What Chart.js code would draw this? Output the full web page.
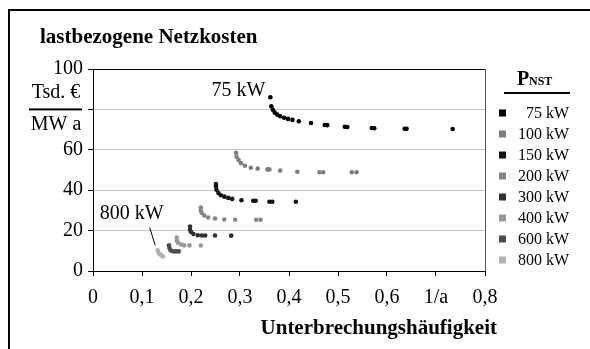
<!DOCTYPE html>
<html>
<head>
<meta charset="utf-8">
<script src="https://cdn.jsdelivr.net/npm/chart.js@4/dist/chart.umd.min.js"></script>
<style>
  html, body { margin: 0; padding: 0; background: #fff; }
  canvas { display: block; }
</style>
</head>
<body>
<canvas id="chart" width="590" height="349"></canvas>
<script>
// Series: Unterbrechungshäufigkeit (1/a) vs. lastbezogene Netzkosten (Tsd. €/MW a)
const x75 = [0.362, 0.364, 0.367, 0.371, 0.376, 0.382, 0.390, 0.398, 0.407, 0.420, 0.445, 0.473, 0.478, 0.514, 0.519, 0.569, 0.574, 0.636, 0.640, 0.734];
const y75 = [86.0, 81.5, 79.8, 78.4, 77.4, 76.6, 75.9, 75.3, 74.8, 74.1, 73.3, 72.3, 72.2, 71.4, 71.3, 70.8, 70.7, 70.4, 70.4, 70.3];

const x100 = [0.292, 0.293, 0.297, 0.302, 0.310, 0.322, 0.336, 0.356, 0.360, 0.382, 0.417, 0.462, 0.470, 0.528, 0.538];
const y100 = [58.5, 56.5, 55.0, 53.4, 52.1, 51.1, 50.7, 50.3, 50.3, 49.7, 49.1, 48.9, 48.9, 48.9, 48.9];

const x150 = [0.251, 0.251, 0.252, 0.256, 0.261, 0.268, 0.276, 0.284, 0.303, 0.327, 0.332, 0.360, 0.366, 0.414];
const y150 = [43.1, 41.8, 40.2, 38.6, 37.5, 36.8, 36.2, 35.7, 35.0, 34.8, 34.8, 34.3, 34.3, 34.3];

const x200 = [0.220, 0.220, 0.222, 0.227, 0.235, 0.249, 0.268, 0.290, 0.333, 0.342];
const y200 = [31.4, 29.8, 28.7, 27.5, 26.5, 26.0, 25.5, 25.4, 25.4, 25.4];

const x300 = [0.198, 0.198, 0.200, 0.205, 0.214, 0.222, 0.229, 0.249, 0.282];
const y300 = [22.0, 20.4, 19.3, 18.3, 17.7, 17.6, 17.6, 17.6, 17.5];

const x400 = [0.171, 0.171, 0.174, 0.180, 0.186, 0.197, 0.220];
const y400 = [16.6, 15.0, 13.9, 13.1, 12.7, 12.7, 12.6];

const x600 = [0.155, 0.156, 0.158, 0.161, 0.165, 0.170, 0.175];
const y600 = [12.7, 11.4, 10.4, 9.9, 9.7, 9.7, 9.7];

const x800 = [0.132, 0.133, 0.135, 0.138, 0.141, 0.143];
const y800 = [10.2, 9.4, 8.6, 8.0, 7.5, 7.2];

const seriesNames = ['75 kW', '100 kW', '150 kW', '200 kW', '300 kW', '400 kW', '600 kW', '800 kW'];
const seriesColors = ['#000000', '#7f7f7f', '#141414', '#868686', '#303030', '#999999', '#4d4d4d', '#b3b3b3'];
const seriesX = [x75, x100, x150, x200, x300, x400, x600, x800];
const seriesY = [y75, y100, y150, y200, y300, y400, y600, y800];

const xTickLabels = ['0', '0,1', '0,2', '0,3', '0,4', '0,5', '0,6', '1/a', '0,8'];
const yTickValues = [0, 20, 40, 60, 80, 100];

const SERIF = '"Liberation Serif", "Times New Roman", serif';
Chart.defaults.font.family = SERIF;
Chart.defaults.color = '#000';

function toPoints(xs, ys) {
    return xs.map((x, i) => ({ x: x, y: ys[i] }));
}

const datasets = seriesNames.map((name, i) => ({
    label: name,
    data: toPoints(seriesX[i], seriesY[i]),
    backgroundColor: seriesColors[i],
    borderColor: seriesColors[i],
    pointStyle: 'circle',
    pointRadius: 2.3,
    pointBorderWidth: 0,
    showLine: false
}));

// Everything that is not a data mark: frame, titles, unit, labels, legend
const decorPlugin = {
    id: 'decor',
    afterDraw(chart) {
        const ctx = chart.ctx;
        const area = chart.chartArea;
        const xs = chart.scales.x;
        const ys = chart.scales.y;
        ctx.save();

        // outer frame (left and top only are visible)
        ctx.strokeStyle = '#000';
        ctx.lineWidth = 2;
        ctx.beginPath();
        ctx.moveTo(9, 349);
        ctx.lineTo(9, 10);
        ctx.lineTo(590, 10);
        ctx.stroke();

        // right border of plot area
        ctx.strokeStyle = '#555';
        ctx.lineWidth = 1;
        ctx.beginPath();
        ctx.moveTo(area.right + 0.5, area.top);
        ctx.lineTo(area.right + 0.5, area.bottom);
        ctx.stroke();

        ctx.fillStyle = '#000';
        ctx.textBaseline = 'alphabetic';

        // chart title
        ctx.font = 'bold 21px ' + SERIF;
        ctx.textAlign = 'left';
        ctx.fillText('lastbezogene Netzkosten', 40, 43);

        // axis title
        ctx.textAlign = 'right';
        ctx.fillText('Unterbrechungshäufigkeit', 497, 334);

        // y unit as a fraction in place of the 80 label
        const y80 = ys.getPixelForValue(80);
        ctx.font = '20px ' + SERIF;
        ctx.textAlign = 'center';
        ctx.fillText('Tsd. €', 56, y80 - 11);
        ctx.fillText('MW a', 56, y80 + 21);
        ctx.fillRect(29, y80 - 1, 53, 2);

        // series labels
        const p75x = xs.getPixelForValue(x75[0]);
        const p75y = ys.getPixelForValue(y75[0]);
        ctx.textAlign = 'right';
        ctx.fillText('75 kW', p75x - 5, p75y - 1);

        const p800x = xs.getPixelForValue(x800[0]);
        const p800y = ys.getPixelForValue(y800[0]);
        ctx.fillText('800 kW', p800x + 6, p800y - 31);
        ctx.lineWidth = 1;
        ctx.strokeStyle = '#000';
        ctx.beginPath();
        ctx.moveTo(p800x - 8, p800y - 23);
        ctx.lineTo(p800x - 2.5, p800y - 5);
        ctx.stroke();

        // legend
        ctx.textAlign = 'left';
        ctx.font = 'bold 20px ' + SERIF;
        ctx.fillText('P', 517, 85);
        ctx.font = 'bold 12px ' + SERIF;
        ctx.fillText('NST', 529, 85);
        ctx.fillRect(504, 92, 66, 2);

        ctx.font = '16px ' + SERIF;
        ctx.textAlign = 'right';
        ctx.textBaseline = 'middle';
        seriesNames.forEach((name, i) => {
            const cy = 113 + i * 21;
            ctx.fillStyle = seriesColors[i];
            ctx.fillRect(499, cy - 3.5, 7, 7);
            ctx.fillStyle = '#000';
            ctx.fillText(name, 569, cy + 1);
        });

        ctx.restore();
    }
};

const chart = new Chart(document.getElementById('chart'), {
    type: 'scatter',
    data: { datasets: datasets },
    options: {
        responsive: false,
        animation: false,
        devicePixelRatio: 1,
        layout: { padding: { left: 0, top: 69, right: 105, bottom: 0 } },
        plugins: {
            legend: { display: false },
            tooltip: { enabled: false }
        },
        scales: {
            x: {
                type: 'linear',
                min: 0,
                max: 0.8,
                afterFit: scale => { scale.height = 78; },
                afterBuildTicks: scale => {
                    scale.ticks = xTickLabels.map((t, i) => ({ value: i / 10 }));
                },
                ticks: {
                    font: { size: 20 },
                    color: '#000',
                    padding: 10,
                    maxRotation: 0,
                    autoSkip: false,
                    callback: (value, index) => xTickLabels[index]
                },
                grid: {
                    drawOnChartArea: false,
                    tickLength: 5,
                    tickColor: '#000'
                },
                border: { color: '#000', width: 1 }
            },
            y: {
                min: 0,
                max: 100,
                afterFit: scale => { scale.width = 93; },
                afterBuildTicks: scale => {
                    scale.ticks = yTickValues.map(v => ({ value: v }));
                },
                ticks: {
                    font: { size: 20 },
                    color: '#000',
                    padding: 5,
                    callback: value => (value === 80 ? '' : String(value))
                },
                grid: {
                    color: c => (c.tick && c.tick.value === 100 ? '#000' : '#c4c4c4'),
                    lineWidth: 1,
                    tickLength: 5,
                    tickColor: '#000'
                },
                border: { color: '#000', width: 1 }
            }
        }
    },
    plugins: [decorPlugin]
});
</script>
</body>
</html>
